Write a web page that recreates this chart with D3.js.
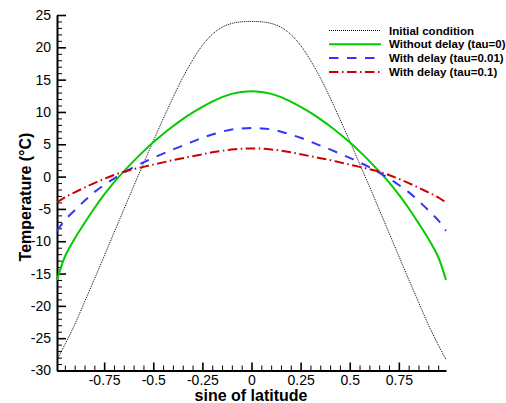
<!DOCTYPE html>
<html><head><meta charset="utf-8">
<script src="https://cdn.jsdelivr.net/npm/d3@7"></script>
<style>
body{margin:0;background:#fff}
text{font-family:"Liberation Sans",Arial,Helvetica,sans-serif}
</style>
</head><body>
<svg id="chart" width="506" height="403"></svg>
<script>
// ---- data ----
const sinLat = [-0.99,-0.95,-0.9,-0.85,-0.8,-0.75,-0.7,-0.65,-0.6,-0.55,-0.5,-0.45,-0.4,-0.35,-0.3,-0.25,-0.2,-0.15,-0.1,-0.05,
  0,0.05,0.1,0.15,0.2,0.25,0.3,0.35,0.4,0.45,0.5,0.55,0.6,0.65,0.7,0.75,0.8,0.85,0.9,0.95,0.99];
const initialCondition = [-28.3,-26.0,-22.9,-19.4,-15.9,-12.3,-8.7,-5.1,-1.5,2.0,5.5,8.9,12.2,15.3,18.0,20.3,22.0,23.1,23.7,23.95,
  24.0,23.95,23.7,23.1,22.0,20.3,18.0,15.3,12.2,8.9,5.5,2.0,-1.5,-5.1,-8.7,-12.3,-15.9,-19.4,-22.9,-26.0,-28.3];
const withoutDelay = [-16.0,-12.4,-9.6,-7.2,-4.9,-2.8,-0.9,0.8,2.4,3.9,5.3,6.6,7.8,8.9,9.9,10.8,11.6,12.3,12.8,13.1,
  13.2,13.1,12.8,12.3,11.6,10.8,9.9,8.9,7.8,6.6,5.3,3.9,2.4,0.8,-0.9,-2.8,-4.9,-7.2,-9.6,-12.4,-16.0];
const delay001 = [-8.4,-6.75,-5.2,-3.75,-2.4,-1.3,-0.3,0.6,1.45,2.2,2.9,3.55,4.2,4.8,5.4,6.0,6.5,6.95,7.3,7.45,
  7.5,7.45,7.3,6.95,6.5,6.0,5.4,4.8,4.2,3.55,2.9,2.2,1.45,0.6,-0.3,-1.3,-2.4,-3.75,-5.2,-6.75,-8.4];
const delay01 = [-4.0,-3.2,-2.45,-1.7,-1.0,-0.35,0.25,0.75,1.15,1.5,1.85,2.2,2.55,2.85,3.15,3.45,3.75,4.0,4.2,4.32,
  4.35,4.32,4.2,4.0,3.75,3.45,3.15,2.85,2.55,2.2,1.85,1.5,1.15,0.75,0.25,-0.35,-1.0,-1.7,-2.45,-3.2,-4.0];
const seriesNames = ["Initial condition","Without delay (tau=0)","With delay (tau=0.01)","With delay (tau=0.1)"];
const xTickValues = [-0.75,-0.5,-0.25,0,0.25,0.5,0.75];
const xTickLabels = ["-0.75","-0.5","-0.25","0","0.25","0.5","0.75"];
const yTickValues = [-30,-25,-20,-15,-10,-5,0,5,10,15,20,25];
const yTickLabels = ["-30","-25","-20","-15","-10","-5","0","5","10","15","20","25"];
const xTitle = "sine of latitude";
const yTitle = "Temperature (°C)";

// ---- styles ----
const styles = [
  {color:"#000000", width:1, dash:"1,1"},
  {color:"#00cc00", width:2, dash:null},
  {color:"#3333ff", width:2, dash:"9.5,8.5"},
  {color:"#cc0000", width:2, dash:"9.5,3.5,1.5,3.5"}
];
const seriesValues = [initialCondition, withoutDelay, delay001, delay01];

const svg = d3.select("#chart");
const x = d3.scaleLinear().domain([-0.99,0.99]).range([57,446]);
const y = d3.scaleLinear().domain([-30,25]).range([370.5,15]);

// minor ticks
const xMinor = d3.range(-0.95,0.96,0.05).map(v=>+v.toFixed(2)).filter(v=>!xTickValues.some(t=>Math.abs(t-v)<1e-6));
const yMinor = d3.range(-29,25,1).filter(v=>v%5!==0);

// x axis
const gx = svg.append("g").attr("transform",`translate(0,${y(-30)})`);
gx.call(d3.axisBottom(x).tickValues(xMinor).tickSizeInner(-5).tickSizeOuter(0).tickFormat(""))
  .call(g=>g.select(".domain").remove());
gx.selectAll(".tick line").attr("stroke","#000").attr("stroke-width",1);
const gx2 = svg.append("g").attr("transform",`translate(0,${y(-30)})`);
gx2.call(d3.axisBottom(x).tickValues(xTickValues).tickSizeInner(-8).tickSizeOuter(0).tickPadding(5)
  .tickFormat((d,i)=>xTickLabels[i]));
gx2.select(".domain").attr("stroke","#000").attr("stroke-width",2);
gx2.selectAll(".tick line").attr("stroke","#000").attr("stroke-width",1.6);
gx2.selectAll(".tick text").attr("font-size",14).attr("fill","#000")
  .attr("font-family",'"Liberation Sans",Arial,sans-serif');

// y axis
const gy = svg.append("g").attr("transform",`translate(${x(-0.99)},0)`);
gy.call(d3.axisLeft(y).tickValues(yMinor).tickSizeInner(-5).tickSizeOuter(0).tickFormat(""))
  .call(g=>g.select(".domain").remove());
gy.selectAll(".tick line").attr("stroke","#000").attr("stroke-width",1);
const gy2 = svg.append("g").attr("transform",`translate(${x(-0.99)},0)`);
gy2.call(d3.axisLeft(y).tickValues(yTickValues).tickSizeInner(-9).tickSizeOuter(0).tickPadding(6)
  .tickFormat((d,i)=>yTickLabels[i]));
gy2.select(".domain").attr("stroke","#000").attr("stroke-width",2);
gy2.selectAll(".tick line").attr("stroke","#000").attr("stroke-width",1.6);
gy2.selectAll(".tick text").attr("font-size",14).attr("fill","#000")
  .attr("font-family",'"Liberation Sans",Arial,sans-serif');

// titles
svg.append("text").attr("x",251).attr("y",401).attr("text-anchor","middle")
  .attr("font-size",16).attr("font-weight","bold").text(xTitle);
svg.append("text").attr("transform","translate(31,197) rotate(-90)").attr("text-anchor","middle")
  .attr("font-size",16).attr("font-weight","bold").text(yTitle);

// lines
const line = d3.line().x(d=>x(d[0])).y(d=>y(d[1])).curve(d3.curveCatmullRom.alpha(0.5));
seriesValues.forEach((vals,i)=>{
  const pts = sinLat.map((s,j)=>[s,vals[j]]);
  svg.append("path").datum(pts).attr("d",line).attr("fill","none")
    .attr("stroke",styles[i].color).attr("stroke-width",styles[i].width)
    .attr("stroke-dasharray",styles[i].dash);
});

// legend
const lg = svg.append("g");
seriesNames.forEach((name,i)=>{
  const ly = 30.5 + i*13.8;
  lg.append("line").attr("x1",329).attr("x2",381).attr("y1",ly).attr("y2",ly)
    .attr("stroke",styles[i].color).attr("stroke-width",styles[i].width)
    .attr("stroke-dasharray",styles[i].dash);
  lg.append("text").attr("x",389).attr("y",ly).attr("dy","0.36em")
    .attr("font-size",11.5).attr("font-weight","bold").text(name);
});
</script>
</body></html>
